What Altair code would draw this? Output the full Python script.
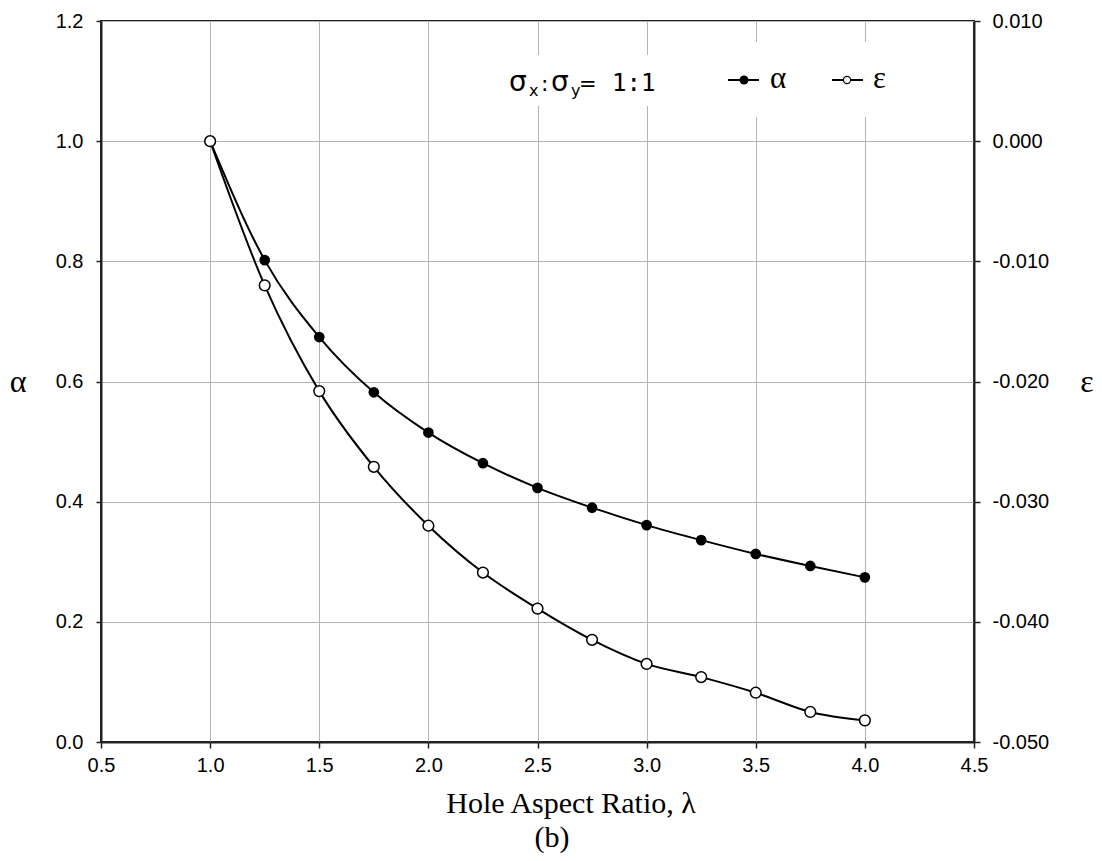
import altair as alt
import pandas as pd

# ---- data ----
lam = [1.0, 1.25, 1.5, 1.75, 2.0, 2.25, 2.5, 2.75, 3.0, 3.25, 3.5, 3.75, 4.0]
alpha = [1.000, 0.802, 0.674, 0.582, 0.515, 0.464, 0.423, 0.390, 0.361, 0.336, 0.313, 0.293, 0.274]
eps = [0.0000, -0.0120, -0.0208, -0.0271, -0.0320, -0.0359, -0.0389, -0.0415, -0.0435,
       -0.0446, -0.0459, -0.0475, -0.0482]

x_ticks = [0.5, 1.0, 1.5, 2.0, 2.5, 3.0, 3.5, 4.0, 4.5]
a_ticks = [0.0, 0.2, 0.4, 0.6, 0.8, 1.0, 1.2]
e_ticks = [-0.05, -0.04, -0.03, -0.02, -0.01, 0.0, 0.01]

df = pd.DataFrame({"lam": lam, "alpha": alpha, "eps": eps})

W, H = 873, 721
SANS = "Liberation Sans"
SERIF = "Liberation Serif"
HYPHEN = "replace(datum.label, '\u2212', '-')"

xenc = alt.X("lam:Q", scale=alt.Scale(domain=[0.5, 4.5], nice=False),
             axis=alt.Axis(values=x_ticks, format=".1f", title=None, grid=True,
                           tickSize=6, labelPadding=7, labelFlush=False))
yA = alt.Y("alpha:Q", scale=alt.Scale(domain=[0, 1.2], nice=False),
           axis=alt.Axis(values=a_ticks, format=".1f", title=None, grid=True,
                         orient="left", tickSize=5, labelPadding=13, labelFlush=False))
yE = alt.Y("eps:Q", scale=alt.Scale(domain=[-0.05, 0.01], nice=False),
           axis=alt.Axis(values=e_ticks, format=".3f", title=None, grid=False,
                         orient="right", tickSize=6, labelPadding=12, labelFlush=False,
                         labelExpr=HYPHEN))

base = alt.Chart(df)

a_line = base.mark_line(color="black", strokeWidth=2, interpolate="monotone").encode(x=xenc, y=yA)
a_pts = base.mark_point(filled=True, color="black", size=115, opacity=1).encode(x=xenc, y=yA)
alpha_layer = alt.layer(a_line, a_pts)

e_line = base.mark_line(color="black", strokeWidth=2, interpolate="monotone").encode(x=xenc, y=yE)
e_pts = base.mark_point(filled=True, fill="white", stroke="black", strokeWidth=1.5,
                        size=115, opacity=1).encode(x=xenc, y=yE)
eps_layer = alt.layer(e_line, e_pts)

# ---- annotation pieces (pixel positions relative to plot area) ----
def rect(x1, x2, y1, y2):
    return alt.Chart(df.head(1)).mark_rect(color="white").encode(
        x=alt.value(x1), x2=alt.value(x2), y=alt.value(y1), y2=alt.value(y2))

def txt(s, x, y, size, font=SANS, align="left", baseline="alphabetic", weight="normal"):
    return alt.Chart(df.head(1)).mark_text(
        text=s, font=font, fontSize=size, align=align, baseline=baseline,
        fontWeight=weight, color="black").encode(x=alt.value(x), y=alt.value(y))

boxes = [rect(404, 561, 34, 85), rect(621, 799, 21, 96)]

leg = [
    alt.Chart(df.head(1)).mark_rule(color="black", strokeWidth=2).encode(
        x=alt.value(627), x2=alt.value(658), y=alt.value(59)),
    alt.Chart(df.head(1)).mark_point(filled=True, color="black", size=80, opacity=1).encode(
        x=alt.value(643), y=alt.value(59)),
    txt("α", 669, 67, 31, font=SERIF),
    alt.Chart(df.head(1)).mark_rule(color="black", strokeWidth=2).encode(
        x=alt.value(731), x2=alt.value(762), y=alt.value(59)),
    alt.Chart(df.head(1)).mark_point(filled=True, fill="white", stroke="black",
                                     strokeWidth=1.2, size=50, opacity=1).encode(
        x=alt.value(746), y=alt.value(59)),
    txt("ε", 772, 67, 31, font=SERIF),
]

ratio = [
    txt("σ", 408, 70, 28, font="DejaVu Sans"),
    txt("x", 428, 75, 16, font="DejaVu Sans"),
    txt(":", 440, 70, 22, font="DejaVu Sans"),
    txt("σ", 450, 70, 28, font="DejaVu Sans"),
    txt("y", 470, 75, 16, font="DejaVu Sans"),
    txt("=", 478, 70, 21, font="DejaVu Sans"),
    txt("1:1", 511, 70, 24, font="DejaVu Sans Mono"),
]

titles = [
    txt("Hole Aspect Ratio, λ", 470, 792, 30, font=SERIF, align="center"),
    txt("(b)", 451, 826, 30, font=SERIF, align="center"),
    txt("α", -83, 361, 32, font=SERIF, align="center", baseline="middle"),
    txt("ε", 986, 361, 32, font=SERIF, align="center", baseline="middle"),
]

chart = alt.layer(
    alpha_layer, eps_layer, *boxes, *leg, *ratio, *titles
).resolve_scale(y="independent").properties(
    width=W, height=H,
    autosize=alt.AutoSizeParams(type="none"),
    padding={"left": 101, "top": 21, "right": 128, "bottom": 119},
).configure_view(
    stroke="#222222", strokeWidth=2
).configure_axis(
    labelFont=SANS, labelFontSize=20, labelColor="black",
    domainColor="#222222", domainWidth=2, tickColor="#222222", tickWidth=1.5,
    gridColor="#b4b4b4", gridWidth=1,
)

chart.save("out.html", embed_options={"renderer": "svg", "actions": False})
